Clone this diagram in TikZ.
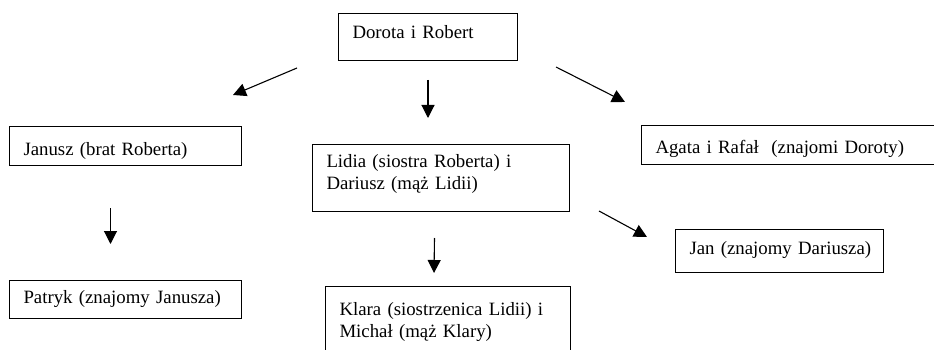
\documentclass[tikz,border=0pt]{standalone}
\usepackage{fontspec}
\setmainfont{Liberation Serif}
\usepackage{tikz}
\usetikzlibrary{arrows.meta}

\begin{document}
\begin{tikzpicture}[x=1pt,y=-1pt,font=\fontsize{18.8}{21.5}\selectfont,
    ramka/.style={draw,line width=1pt,anchor=north west,align=left,inner xsep=14pt,inner ysep=0pt},
    strz/.style={-{Triangle[length=13pt,width=13pt]},line width=1.1pt}]
    \useasboundingbox (0,0) rectangle (934,350);
    \clip (0,0) rectangle (934,350);
    \node[ramka,text width=151pt,text height=25pt,text depth=22pt] (dr) at (338,13) {Dorota i Robert};
    \node[ramka,text width=204pt,text height=29pt,text depth=10pt] (ja) at (9,126) {Janusz (brat Roberta)};
    \node[ramka,text width=229pt,text height=23pt,text depth=44pt] (li) at (312,144) {Lidia (siostra Roberta) i\\Dariusz (mąż Lidii)};
    \node[ramka,text width=276pt,text height=28pt,text depth=11pt] (ag) at (641,125) {\mbox{Agata i Rafał\ \ (znajomi Doroty)}};
    \node[ramka,text width=180pt,text height=25pt,text depth=18pt] (jn) at (675,229) {\mbox{Jan (znajomy Dariusza)}};
    \node[ramka,text width=204pt,text height=23pt,text depth=15pt] (pa) at (9,280) {\mbox{Patryk (znajomy Janusza)}};
    \node[ramka,text width=217pt,text height=29pt,text depth=71pt] (kl) at (325,286) {Klara (siostrzenica Lidii) i\\Michał (mąż Klary)};
    \draw[strz] ([shift={(-41,7)}]dr.south west) -- ([shift={(-9,-31)}]ja.north east);
    \draw[strz] ([shift={(0,19)}]dr.south) -- ([shift={(-13,-26)}]li.north);
    \draw[strz] ([shift={(38,6)}]dr.south east) -- ([shift={(-16,-23)}]ag.north west);
    \draw[strz] ([shift={(-15,42)}]ja.south) -- ([shift={(-15,-36)}]pa.north);
    \draw[strz] ([shift={(-6.5,26)}]li.south) -- ([shift={(109,-13)}]kl.north west);
    \draw[strz] ([shift={(29,-1)}]li.south east) -- ([shift={(-28,-14)}]jn.west);
\end{tikzpicture}
\end{document}
